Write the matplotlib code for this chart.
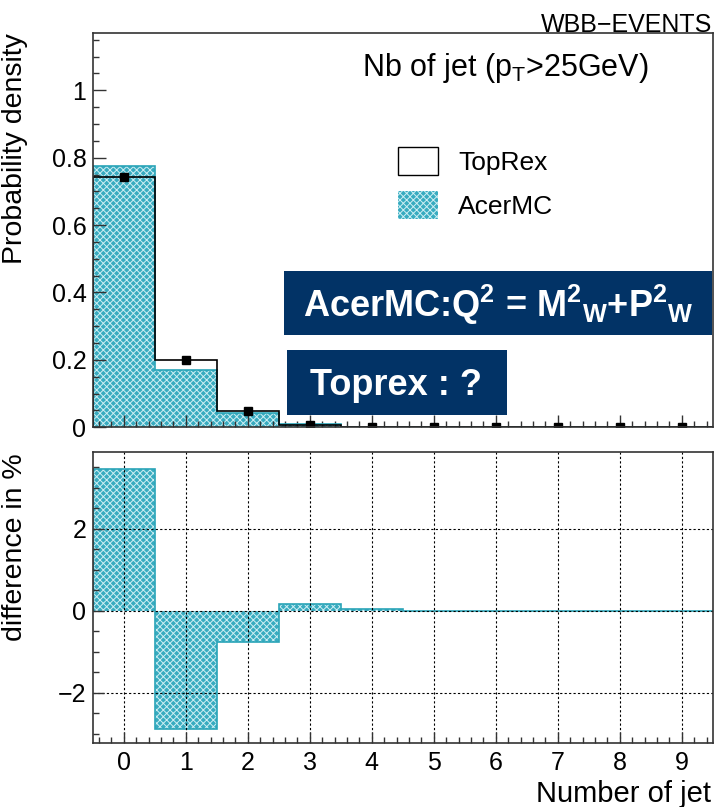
import numpy as np
import matplotlib
matplotlib.use("Agg")
import matplotlib.pyplot as plt
from matplotlib.patches import Patch, Rectangle
from matplotlib.ticker import MultipleLocator

plt.rcParams["font.family"] = ["Liberation Sans", "DejaVu Sans"]
plt.rcParams["mathtext.fontset"] = "custom"
plt.rcParams["mathtext.rm"] = "Liberation Sans"
plt.rcParams["mathtext.it"] = "Liberation Sans:italic"
plt.rcParams["mathtext.bf"] = "Liberation Sans:bold"
plt.rcParams["hatch.linewidth"] = 0.7

# Jet multiplicity (pT > 25 GeV), normalised distributions
n_jets = [0, 1, 2, 3, 4, 5, 6, 7, 8, 9]
toprex = [0.742, 0.200, 0.049, 0.008, 0.001, 0.0, 0.0, 0.0, 0.0, 0.0]
acermc = [0.776, 0.171, 0.041, 0.010, 0.0015, 0.0, 0.0, 0.0, 0.0, 0.0]
# AcerMC - TopRex, in percent
diff_pct = [3.46, -2.89, -0.77, 0.16, 0.03, 0.0, 0.0, 0.0, 0.0, 0.0]
x_ticklabels = ["0", "1", "2", "3", "4", "5", "6", "7", "8", "9"]

W, H = 714, 807
fig = plt.figure(figsize=(W / 100, H / 100), dpi=100)


def fx(px):
    return px / W


def fy(py):
    return 1 - py / H


x = np.array(n_jets, dtype=float)
edges = np.append(x - 0.5, x[-1] + 0.5)

FILL = "#38abc0"
HATCH = "#cdeef3"
OUTLINE = "#2aa4b8"
SPINE = "#333333"

ax_top = fig.add_axes([fx(92.7), fy(427.3), fx(620), 394.3 / H])
ax_bot = fig.add_axes([fx(92.7), fy(742.7), fx(620), 290.4 / H])

# ---- upper panel: distributions ----
ax_top.bar(x, acermc, width=1.0, color=FILL, hatch="xxxxx", edgecolor=HATCH,
           linewidth=0, zorder=1)
ax_top.stairs(acermc, edges, baseline=0, color=OUTLINE, lw=1.2, zorder=2)
ax_top.stairs(toprex, edges, baseline=0, color="black", lw=1.2, zorder=3)
ax_top.plot(x, toprex, ls="none", marker="s", ms=6, color="black", zorder=4)
ax_top.set_xlim(-0.5, 9.5)
ax_top.set_ylim(0, 1.17)
ax_top.yaxis.set_minor_locator(MultipleLocator(0.05))
ax_top.xaxis.set_major_locator(MultipleLocator(1))
ax_top.xaxis.set_minor_locator(MultipleLocator(0.2))
ax_top.set_yticks([0, 0.2, 0.4, 0.6, 0.8, 1.0])
ax_top.set_yticklabels(["0", "0.2", "0.4", "0.6", "0.8", "1"])
ax_top.tick_params(axis="x", labelbottom=False)

handles = [Patch(facecolor="white", edgecolor="black", lw=1.0),
           Patch(facecolor=FILL, hatch="xxxxx", edgecolor=HATCH, lw=0)]
ax_top.legend(handles, ["TopRex", "AcerMC"], loc="upper left",
              bbox_to_anchor=(fx(398), fy(147)), bbox_transform=fig.transFigure,
              frameon=False, fontsize=19, borderpad=0, borderaxespad=0,
              handlelength=1.52, handleheight=1.25, handletextpad=0.76,
              labelspacing=0.6)

# ---- lower panel: relative difference ----
ax_bot.bar(x, diff_pct, width=1.0, color=FILL, hatch="xxxxx", edgecolor=HATCH,
           linewidth=0, zorder=1)
ax_bot.stairs(diff_pct, edges, baseline=0, color=OUTLINE, lw=1.2, zorder=2)
ax_bot.set_xlim(-0.5, 9.5)
ax_bot.set_ylim(-3.22, 3.86)
ax_bot.set_xticks(n_jets)
ax_bot.set_xticklabels(x_ticklabels)
ax_bot.xaxis.set_minor_locator(MultipleLocator(0.2))
ax_bot.set_yticks([-2, 0, 2])
ax_bot.set_yticklabels(["\u22122", "0", "2"])
ax_bot.yaxis.set_minor_locator(MultipleLocator(0.5))
ax_bot.set_axisbelow(False)
ax_bot.grid(True, which="major", color="black", lw=0.8, ls=(0, (2, 2)), zorder=3)

for ax, major_len in ((ax_top, 9.0), (ax_bot, 8.0)):
    ax.tick_params(which="both", direction="in", top=False, right=False,
                   color=SPINE, labelsize=18, width=1.0)
    ax.tick_params(which="major", length=major_len)
    ax.tick_params(which="minor", length=4.3)
    ax.tick_params(axis="y", pad=4.5)
    ax.tick_params(axis="x", pad=6.0)
    for s in ax.spines.values():
        s.set_color(SPINE)
        s.set_linewidth(1.2)
        s.set_zorder(5)

# ---- titles and axis labels ----
fig.text(fx(712), fy(32), "WBB\u2212EVENTS", ha="right", va="baseline", fontsize=18)
fig.text(fx(362), fy(76), r"Nb of jet (p$_{\mathrm{T}}$>25GeV)", ha="left",
         va="baseline", fontsize=22)
fig.text(fx(15.5), fy(33), "Probability density", rotation=90, ha="center",
         va="top", fontsize=20.5)
fig.text(fx(15.5), fy(453), "difference in %", rotation=90, ha="center",
         va="top", fontsize=20.5)
fig.text(fx(711), fy(802), "Number of jet", ha="right", va="baseline", fontsize=21)

# ---- annotation boxes ----
NAVY = "#023366"
fig.add_artist(Rectangle((fx(284), fy(335)), fx(428), 64 / H,
                         transform=fig.transFigure, facecolor=NAVY,
                         edgecolor="none", zorder=10))
fig.add_artist(Rectangle((fx(287), fy(415)), fx(220), 65 / H,
                         transform=fig.transFigure, facecolor=NAVY,
                         edgecolor="none", zorder=10))
fig.text(fx(498), fy(317),
         r"AcerMC:Q$^{\mathbf{2}}$ = M$^{\mathbf{2}}{}_{\mathbf{W}}$+P$^{\mathbf{2}}{}_{\mathbf{W}}$",
         ha="center", va="baseline", fontsize=26, fontweight="bold",
         color="white", zorder=11)
fig.text(fx(396), fy(395), "Toprex : ?", ha="center", va="baseline",
         fontsize=26, fontweight="bold", color="white", zorder=11)

fig.savefig("out.png", dpi=100)
